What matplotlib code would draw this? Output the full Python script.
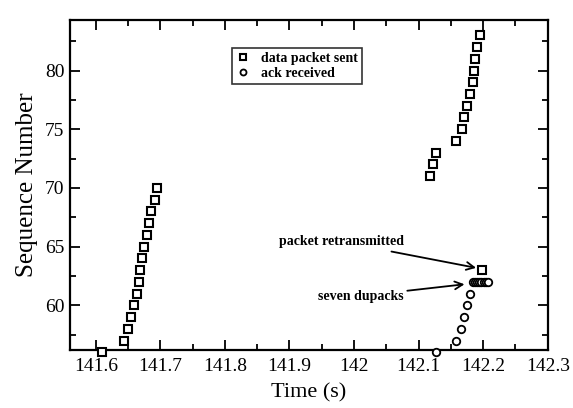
import matplotlib
matplotlib.use("Agg")
import matplotlib.pyplot as plt
from matplotlib.ticker import MultipleLocator, FixedLocator

plt.rcParams['font.family'] = ['Liberation Serif', 'DejaVu Serif']

# ---- data ----
sent_time = [141.610, 141.643, 141.650, 141.655, 141.659, 141.664, 141.667,
             141.668, 141.671, 141.675, 141.679, 141.683, 141.686, 141.691, 141.695,
             142.117, 142.123, 142.127, 142.158, 142.167, 142.171, 142.175,
             142.179, 142.184, 142.186, 142.188, 142.191, 142.195,
             142.198]
sent_seq = [56, 57, 58, 59, 60, 61, 62, 63, 64, 65, 66, 67, 68, 69, 70,
            71, 72, 73, 74, 75, 76, 77, 78, 79, 80, 81, 82, 83,
            63]
ack_time = [142.127, 142.1585, 142.1657, 142.1697, 142.1753, 142.180,
            142.184, 142.1873, 142.1906, 142.1939, 142.1972, 142.2005, 142.2038, 142.207]
ack_seq = [56, 57, 58, 59, 60, 61, 62, 62, 62, 62, 62, 62, 62, 62]

xtick_vals = [141.6, 141.7, 141.8, 141.9, 142.0, 142.1, 142.2, 142.3]
xtick_labels = ["141.6", "141.7", "141.8", "141.9", "142", "142.1", "142.2", "142.3"]
ytick_vals = [60, 65, 70, 75, 80]

legend_labels = ["data packet sent", "ack received"]
ann_retrans = "packet retransmitted"
ann_dupacks = "seven dupacks"

fig = plt.figure(figsize=(5.73, 4.08), dpi=100)
ax = fig.add_axes([0.122, 0.142, 0.834, 0.809])

ax.plot(sent_time, sent_seq, linestyle='none', marker='s', markersize=5.8,
        markerfacecolor='white', markeredgecolor='black', markeredgewidth=1.5,
        clip_on=False, zorder=3, label=legend_labels[0])
ax.plot(ack_time, ack_seq, linestyle='none', marker='o', markersize=5.4,
        markerfacecolor='white', markeredgecolor='black', markeredgewidth=1.3,
        clip_on=False, zorder=3, label=legend_labels[1])

ax.set_xlim(141.56, 142.3)
ax.set_ylim(56.2, 84.3)

ax.xaxis.set_major_locator(FixedLocator(xtick_vals))
ax.set_xticklabels(xtick_labels)
ax.xaxis.set_minor_locator(MultipleLocator(0.05))
ax.yaxis.set_major_locator(FixedLocator(ytick_vals))
ax.yaxis.set_minor_locator(MultipleLocator(2.5))

ax.tick_params(which='both', direction='in', top=True, right=True, width=1.3,
               labelsize=14, colors='black')
ax.tick_params(which='major', length=7)
ax.tick_params(which='minor', length=4)
ax.tick_params(axis='x', which='major', pad=6)
ax.tick_params(axis='y', which='major', pad=4)

for s in ax.spines.values():
    s.set_linewidth(1.6)

ax.set_xlabel("Time (s)", fontsize=16, labelpad=6)
ax.set_ylabel("Sequence Number", fontsize=18, labelpad=5)

leg = ax.legend(loc='upper left', bbox_to_anchor=(0.339, 0.915), borderaxespad=0,
                prop={'size': 10, 'weight': 'bold'}, frameon=True, fancybox=False,
                edgecolor='black', handlelength=1.0, handletextpad=0.8, borderpad=0.3,
                labelspacing=0.15, markerscale=0.8)
leg.get_frame().set_linewidth(1.2)

ax.annotate(ann_retrans, xy=(142.189, 63.2), xytext=(142.078, 65.4),
            ha='right', va='center', fontsize=10, fontweight='bold',
            arrowprops=dict(arrowstyle='->', color='black', lw=1.3,
                            shrinkA=1, shrinkB=0, mutation_scale=14))
ax.annotate(ann_dupacks, xy=(142.171, 61.8), xytext=(142.076, 60.8),
            ha='right', va='center', fontsize=10, fontweight='bold',
            arrowprops=dict(arrowstyle='->', color='black', lw=1.3,
                            shrinkA=1, shrinkB=0, mutation_scale=14))

fig.savefig("out.png", dpi=100)
